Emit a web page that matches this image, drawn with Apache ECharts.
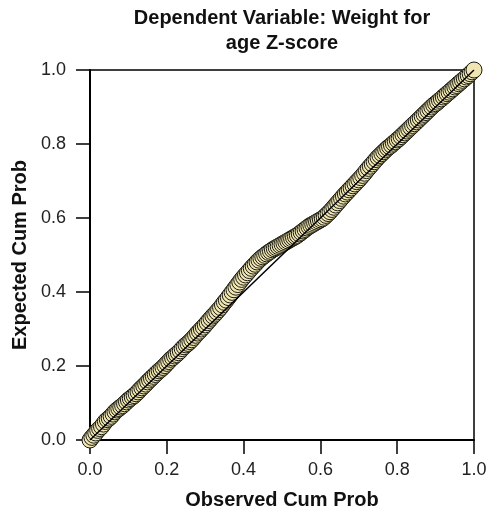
<!DOCTYPE html>
<html>
<head>
<meta charset="utf-8">
<script src="https://cdn.jsdelivr.net/npm/echarts/dist/echarts.min.js"></script>
<style>
  html, body { margin: 0; padding: 0; background: #fff; }
  #chart { width: 487px; height: 512px; }
</style>
</head>
<body>
<div id="chart"></div>
<script>
// observed cumulative probability (x)
var observed = [
  0.000, 0.005, 0.010, 0.015, 0.020, 0.025, 0.030, 0.035, 0.040, 0.045,
  0.050, 0.055, 0.060, 0.065, 0.070, 0.075, 0.080, 0.085, 0.090, 0.095,
  0.100, 0.105, 0.110, 0.115, 0.120, 0.125, 0.130, 0.135, 0.140, 0.145,
  0.150, 0.155, 0.160, 0.165, 0.170, 0.175, 0.180, 0.185, 0.190, 0.195,
  0.200, 0.205, 0.210, 0.215, 0.220, 0.225, 0.230, 0.235, 0.240, 0.245,
  0.250, 0.255, 0.260, 0.265, 0.270, 0.275, 0.280, 0.285, 0.290, 0.295,
  0.300, 0.305, 0.310, 0.315, 0.320, 0.325, 0.330, 0.335, 0.340, 0.345,
  0.350, 0.355, 0.360, 0.365, 0.370, 0.375, 0.380, 0.385, 0.390, 0.395,
  0.400, 0.405, 0.410, 0.415, 0.420, 0.425, 0.430, 0.435, 0.440, 0.445,
  0.450, 0.455, 0.460, 0.465, 0.470, 0.475, 0.480, 0.485, 0.490, 0.495,
  0.500, 0.505, 0.510, 0.515, 0.520, 0.525, 0.530, 0.535, 0.540, 0.545,
  0.550, 0.555, 0.560, 0.565, 0.570, 0.575, 0.580, 0.585, 0.590, 0.595,
  0.600, 0.605, 0.610, 0.615, 0.620, 0.625, 0.630, 0.635, 0.640, 0.645,
  0.650, 0.655, 0.660, 0.665, 0.670, 0.675, 0.680, 0.685, 0.690, 0.695,
  0.700, 0.705, 0.710, 0.715, 0.720, 0.725, 0.730, 0.735, 0.740, 0.745,
  0.750, 0.755, 0.760, 0.765, 0.770, 0.775, 0.780, 0.785, 0.790, 0.795,
  0.800, 0.805, 0.810, 0.815, 0.820, 0.825, 0.830, 0.835, 0.840, 0.845,
  0.850, 0.855, 0.860, 0.865, 0.870, 0.875, 0.880, 0.885, 0.890, 0.895,
  0.900, 0.905, 0.910, 0.915, 0.920, 0.925, 0.930, 0.935, 0.940, 0.945,
  0.950, 0.955, 0.960, 0.965, 0.970, 0.975, 0.980, 0.985, 0.990, 0.995,
  1.000
];
// expected cumulative probability (y)
var expected = [
  0.000, 0.007, 0.013, 0.019, 0.026, 0.031, 0.036, 0.043, 0.050, 0.055,
  0.059, 0.064, 0.070, 0.076, 0.081, 0.085, 0.089, 0.093, 0.098, 0.103,
  0.108, 0.112, 0.116, 0.120, 0.125, 0.130, 0.136, 0.141, 0.146, 0.151,
  0.157, 0.162, 0.167, 0.172, 0.177, 0.182, 0.187, 0.191, 0.196, 0.201,
  0.207, 0.212, 0.218, 0.222, 0.227, 0.231, 0.236, 0.241, 0.247, 0.252,
  0.257, 0.261, 0.266, 0.271, 0.277, 0.283, 0.289, 0.294, 0.300, 0.305,
  0.311, 0.317, 0.323, 0.329, 0.335, 0.340, 0.346, 0.352, 0.358, 0.365,
  0.372, 0.378, 0.385, 0.392, 0.399, 0.406, 0.413, 0.420, 0.427, 0.434,
  0.440, 0.446, 0.452, 0.458, 0.464, 0.470, 0.475, 0.481, 0.486, 0.491,
  0.495, 0.499, 0.503, 0.507, 0.510, 0.514, 0.517, 0.520, 0.523, 0.526,
  0.529, 0.532, 0.535, 0.538, 0.541, 0.544, 0.547, 0.550, 0.553, 0.557,
  0.561, 0.565, 0.569, 0.573, 0.577, 0.580, 0.583, 0.586, 0.589, 0.592,
  0.595, 0.598, 0.602, 0.607, 0.612, 0.617, 0.623, 0.629, 0.635, 0.641,
  0.647, 0.653, 0.659, 0.665, 0.670, 0.676, 0.681, 0.687, 0.692, 0.698,
  0.703, 0.709, 0.715, 0.721, 0.728, 0.734, 0.740, 0.746, 0.752, 0.758,
  0.764, 0.769, 0.774, 0.779, 0.784, 0.789, 0.793, 0.797, 0.802, 0.806,
  0.811, 0.815, 0.820, 0.825, 0.830, 0.835, 0.840, 0.845, 0.850, 0.855,
  0.860, 0.865, 0.870, 0.875, 0.880, 0.885, 0.890, 0.895, 0.900, 0.905,
  0.909, 0.913, 0.918, 0.922, 0.927, 0.931, 0.936, 0.940, 0.945, 0.949,
  0.954, 0.958, 0.963, 0.967, 0.972, 0.976, 0.981, 0.985, 0.990, 0.995,
  1.000
];
// reference diagonal
var refLine = [[0, 0], [1, 1]];
var tickLabels = ['0.0', '0.2', '0.4', '0.6', '0.8', '1.0'];

var points = observed.map(function (v, i) { return [v, expected[i]]; });

var myChart = echarts.init(document.getElementById('chart'));
var axisCommon = {
  type: 'value',
  min: 0,
  max: 1,
  interval: 0.2,
  nameLocation: 'middle',
  nameTextStyle: { fontFamily: 'Liberation Sans', fontWeight: 'bold', fontSize: 20, color: '#111' },
  axisLine: { show: true, lineStyle: { color: '#000', width: 2 } },
  axisTick: { show: true, inside: false, length: 14, lineStyle: { color: '#000', width: 1.5 } },
  splitLine: { show: false },
  axisLabel: {
    fontFamily: 'Liberation Sans',
    fontSize: 18,
    color: '#222',
    formatter: function (v) { return tickLabels[Math.round(v * 5)]; }
  }
};

myChart.setOption({
  animation: false,
  backgroundColor: '#fff',
  graphic: [{
    type: 'text',
    x: 282,
    y: 6,
    style: {
      text: 'Dependent Variable: Weight for\nage Z-score',
      textAlign: 'center',
      textVerticalAlign: 'top',
      font: 'bold 20px "Liberation Sans"',
      lineHeight: 25,
      fill: '#111'
    }
  }],
  grid: {
    left: 90, right: 13, top: 70, bottom: 72,
    containLabel: false,
    outerBoundsMode: 'none',
    show: true, borderColor: '#000', borderWidth: 1.5, backgroundColor: 'transparent'
  },
  xAxis: Object.assign({}, axisCommon, {
    name: 'Observed Cum Prob',
    nameGap: 50,
    axisLabel: Object.assign({}, axisCommon.axisLabel, { margin: 21 })
  }),
  yAxis: Object.assign({}, axisCommon, {
    name: 'Expected Cum Prob',
    nameGap: 58,
    axisLabel: Object.assign({}, axisCommon.axisLabel, { margin: 24 })
  }),
  series: [
    {
      type: 'scatter',
      data: points,
      symbol: 'circle',
      symbolSize: 16,
      clip: false,
      z: 3,
      itemStyle: { color: '#F0E6B4', borderColor: '#1a1a10', borderWidth: 1, opacity: 1 }
    },
    {
      type: 'line',
      data: refLine,
      symbol: 'none',
      z: 4,
      lineStyle: { color: '#000', width: 1.5 }
    }
  ]
});
</script>
</body>
</html>
